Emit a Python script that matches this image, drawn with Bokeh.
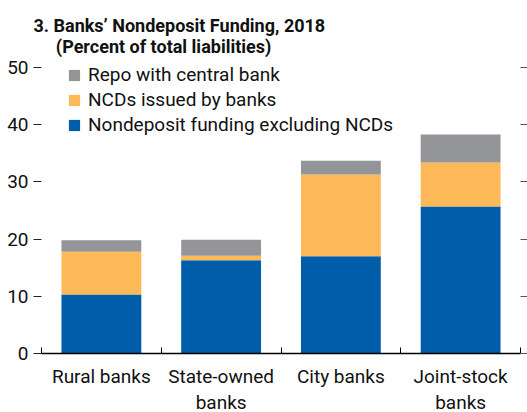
from bokeh.plotting import figure
from bokeh.models import (ColumnDataSource, FixedTicker, LinearAxis, Legend, LegendItem,
                          Title, Range1d)
from bokeh.embed import file_html
from bokeh.resources import INLINE

categories = ["Rural banks", "State-owned\nbanks", "City banks", "Joint-stock\nbanks"]
nondeposit_ex_ncd = [10.3, 16.3, 17.0, 25.7]
ncds = [7.5, 0.8, 14.3, 7.7]
repo_cb = [2.0, 2.8, 2.4, 4.9]
series_names = ["Nondeposit funding excluding NCDs", "NCDs issued by banks", "Repo with central bank"]
colors = ["#005DAA", "#FDB857", "#939598"]
y_ticks = [0, 10, 20, 30, 40, 50]
title_text = "3. Banks\u2019 Nondeposit Funding, 2018\n" + "\u00a0" * 5 + "(Percent of total liabilities)"

FONT = "Roboto"
TXT = "#111111"

x = [i + 0.5 for i in range(len(categories))]
b1 = [0.0] * len(x)
t1 = nondeposit_ex_ncd
t2 = [a + b for a, b in zip(t1, ncds)]
t3 = [a + b for a, b in zip(t2, repo_cb)]
src = ColumnDataSource(dict(x=x, b1=b1, t1=t1, t2=t2, t3=t3))

p = figure(frame_width=479, frame_height=286, output_backend="svg", toolbar_location=None,
           x_range=Range1d(0, len(categories)), y_range=Range1d(0, 50),
           min_border_left=41, min_border_right=7, min_border_top=67, min_border_bottom=59,
           outline_line_color=None, background_fill_color="white", border_fill_color="white")
p.grid.visible = False

r1 = p.vbar(x="x", bottom="b1", top="t1", width=2/3, color=colors[0], line_color=None, source=src)
r2 = p.vbar(x="x", bottom="t1", top="t2", width=2/3, color=colors[1], line_color=None, source=src)
r3 = p.vbar(x="x", bottom="t2", top="t3", width=2/3, color=colors[2], line_color=None, source=src)

# x axis: labels at bar centres, ticks at category boundaries
xa = p.xaxis[0]
xa.ticker = FixedTicker(ticks=x, minor_ticks=list(range(len(categories) + 1)))
xa.major_label_overrides = {xi: c for xi, c in zip(x, categories)}
xa.major_tick_in = 0
xa.major_tick_out = 0
xa.minor_tick_in = 6
xa.minor_tick_out = 0
xa.minor_tick_line_color = "black"
xa.axis_line_color = "black"
xa.axis_line_width = 1.5
xa.major_label_text_font = FONT
xa.major_label_text_font_size = "19px"
xa.major_label_text_line_height = 1.15
xa.major_label_text_color = TXT
xa.major_label_standoff = 11

# left y axis
ya = p.yaxis[0]
ya.ticker = FixedTicker(ticks=y_ticks)
ya.axis_line_color = None
ya.major_tick_in = 0
ya.major_tick_out = 8
ya.major_tick_line_color = "#222222"
ya.minor_tick_line_color = None
ya.major_label_text_font = FONT
ya.major_label_text_font_size = "19px"
ya.major_label_text_color = TXT
ya.major_label_standoff = 5

# right y axis (ticks only)
ra = LinearAxis(ticker=FixedTicker(ticks=y_ticks))
ra.axis_line_color = None
ra.major_tick_in = 0
ra.major_tick_out = 7
ra.major_tick_line_color = "#555555"
ra.minor_tick_line_color = None
ra.major_label_overrides = {t: "" for t in y_ticks}
ra.major_label_standoff = 0
p.add_layout(ra, "right")

legend = Legend(items=[LegendItem(label=series_names[2], renderers=[r3]),
                       LegendItem(label=series_names[1], renderers=[r2]),
                       LegendItem(label=series_names[0], renderers=[r1])],
                location=(26, 217), orientation="vertical")
legend.margin = 0
legend.padding = 0
legend.border_line_color = None
legend.background_fill_alpha = 0
legend.glyph_width = 14
legend.glyph_height = 14
legend.label_height = 20
legend.spacing = 2
legend.label_standoff = 7
legend.label_text_font = FONT
legend.label_text_font_size = "19px"
legend.label_text_color = TXT
p.add_layout(legend, "center")

title = Title(text=title_text, text_font=FONT, text_font_size="18px", text_font_style="bold",
              text_color=TXT, offset=-8, standoff=22)
p.add_layout(title, "above")

html = file_html(p, INLINE)
html = html.replace("<head>", "<head><style>html,body{overflow:hidden}</style>", 1)
open("out.html", "w").write(html)
